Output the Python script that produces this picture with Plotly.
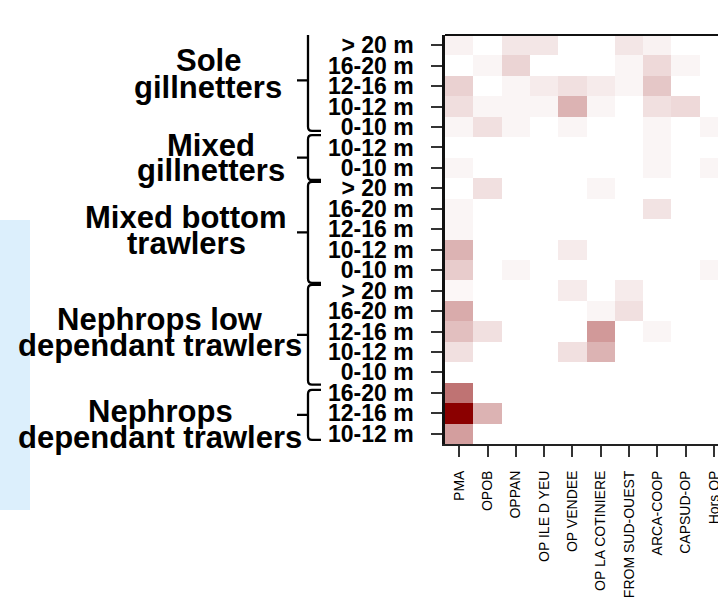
import plotly.graph_objects as go

# ---------------- data ----------------
organisations = ["PMA", "OPOB", "OPPAN", "OP ILE D YEU", "OP VENDEE",
                 "OP LA COTINIERE", "FROM SUD-OUEST", "ARCA-COOP", "CAPSUD-OP", "Hors OP"]

size_classes = ["> 20 m", "16-20 m", "12-16 m", "10-12 m", "0-10 m",
                "10-12 m", "0-10 m",
                "> 20 m", "16-20 m", "12-16 m", "10-12 m", "0-10 m",
                "> 20 m", "16-20 m", "12-16 m", "10-12 m", "0-10 m",
                "16-20 m", "12-16 m", "10-12 m"]

fleet_groups = [["Sole", "gillnetters"],
                ["Mixed", "gillnetters"],
                ["Mixed bottom", "trawlers"],
                ["Nephrops low", "dependant trawlers"],
                ["Nephrops", "dependant trawlers"]]
group_sizes = [5, 2, 5, 5, 3]

# relative intensity (% of the maximum cell)
values = [
    [5, 0, 10, 10, 0, 0, 10, 5, 0, 0],
    [0, 4, 17, 0, 0, 0, 4, 15, 4, 0],
    [18, 0, 4, 8, 12, 8, 4, 22, 0, 0],
    [13, 4, 4, 4, 30, 4, 0, 12, 15, 0],
    [4, 12, 4, 0, 4, 0, 0, 4, 0, 4],
    [0, 0, 0, 0, 0, 0, 0, 4, 0, 0],
    [4, 0, 0, 0, 0, 0, 0, 4, 0, 4],
    [0, 12, 0, 0, 0, 4, 0, 0, 0, 0],
    [4, 0, 0, 0, 0, 0, 0, 11, 0, 0],
    [4, 0, 0, 0, 0, 0, 0, 0, 0, 0],
    [30, 0, 0, 0, 8, 0, 0, 0, 0, 0],
    [20, 0, 4, 0, 0, 0, 0, 0, 0, 4],
    [3, 0, 0, 0, 8, 0, 8, 0, 0, 0],
    [33, 0, 0, 0, 0, 4, 12, 0, 0, 0],
    [25, 12, 0, 0, 0, 40, 0, 4, 0, 0],
    [12, 0, 0, 0, 12, 30, 0, 0, 0, 0],
    [0, 0, 0, 0, 0, 0, 0, 0, 0, 0],
    [55, 0, 0, 0, 0, 0, 0, 0, 0, 0],
    [100, 30, 0, 0, 0, 0, 0, 0, 0, 0],
    [38, 0, 0, 0, 0, 0, 0, 0, 0, 0],
]

# ---------------- layout helpers ----------------
W, H = 718, 597
ML, MR, MT, MB = 445, 0, 35, 153
PW = W - ML - MR
PH = H - MT - MB


def px_x(px):
    return (px - ML) / PW


def px_y(py):
    return (H - MB - py) / PH


FONT = "Liberation Sans, Arial, sans-serif"

fig = go.Figure(go.Heatmap(
    z=values,
    x=list(range(len(organisations))),
    y=list(range(len(size_classes))),
    zmin=0, zmax=100,
    colorscale=[[0, "#FFFFFF"], [1, "#8B0000"]],
    showscale=False,
    hoverinfo="skip",
))

n_cols_visible = PW / 28.33
fig.update_xaxes(
    range=[-0.5, -0.5 + n_cols_visible],
    tickvals=list(range(len(organisations))),
    ticktext=organisations,
    tickangle=-90,
    ticks="outside", ticklen=11, tickwidth=1.5, tickcolor="#333333",
    tickfont=dict(family=FONT, size=14, color="#000000"),
    ticklabelstandoff=8,
    ticklabeloverflow="allow",
    showline=True, mirror=False, linecolor="#222222", linewidth=2,
    showgrid=False, zeroline=False, automargin=False,
)
fig.update_yaxes(
    range=[len(size_classes) - 0.5, -0.5],
    tickvals=list(range(len(size_classes))),
    ticktext=size_classes,
    ticks="outside", ticklen=11, tickwidth=1.5, tickcolor="#333333",
    tickfont=dict(family=FONT, size=23, color="#000000", weight="bold"),
    ticklabelstandoff=13,
    ticklabeloverflow="allow",
    showline=True, linecolor="#111111", linewidth=2.5,
    showgrid=False, zeroline=False, automargin=False,
)

shapes = []
# top frame line (the right side is cut by the image edge)
shapes.append(dict(type="line", xref="paper", yref="paper",
                   x0=0, x1=1.05, y0=1, y1=1,
                   line=dict(color="#111111", width=2)))
# light blue band at the far left
shapes.append(dict(type="rect", xref="paper", yref="paper",
                   x0=px_x(0), x1=px_x(30), y0=px_y(510), y1=px_y(220),
                   fillcolor="#DCEFFC", line=dict(width=0), layer="below"))

annotations = []
label_x = [208, 211, 186, 160, 160]
label_dy = [(-26, 1), (-12, 13), (-12, 14), (-12, 14), (-2, 24)]  # px offsets of the two lines from group centre
brace_pad = [(-0.75, 0.19), (-0.6, 0.59), (-0.32, 0.62), (-0.28, 0.6), (-0.15, 0.3)]
row_px = PH / len(size_classes)
start = 0
xr, xv, xt = px_x(321), px_x(308), px_x(297)
rc = px_x(312) - xv  # corner radius in paper units
for g, n in enumerate(group_sizes):
    first, last = start, start + n - 1
    ytop, ybot = first + brace_pad[g][0], last + brace_pad[g][1]
    ymid = (ytop + ybot) / 2
    d = 0.2
    path = (f"M {xr},{ytop} L {xv + rc},{ytop} Q {xv},{ytop} {xv},{ytop + d} "
            f"L {xv},{ymid} L {xt},{ymid} L {xv},{ymid} "
            f"L {xv},{ybot - d} Q {xv},{ybot} {xv + rc},{ybot} L {xr},{ybot}")
    shapes.append(dict(type="path", xref="paper", yref="y", path=path,
                       line=dict(color="#000000", width=2.3)))
    centre_px = MT + (((first + last) / 2) + 0.5) * row_px
    for line_txt, dy in zip(fleet_groups[g], label_dy[g]):
        annotations.append(dict(
            xref="paper", yref="paper",
            x=px_x(label_x[g]), y=px_y(centre_px + dy),
            xanchor="center", yanchor="middle",
            text=line_txt, showarrow=False,
            font=dict(family=FONT, size=31, color="#000000", weight="bold"),
        ))
    start += n

fig.update_layout(
    width=W, height=H,
    margin=dict(l=ML, r=MR, t=MT, b=MB, pad=0),
    paper_bgcolor="#FFFFFF", plot_bgcolor="#FFFFFF",
    shapes=shapes, annotations=annotations,
    showlegend=False,
)

fig.write_html("out.html", config={"displayModeBar": False},
               post_script="document.body.style.margin='0px';")
